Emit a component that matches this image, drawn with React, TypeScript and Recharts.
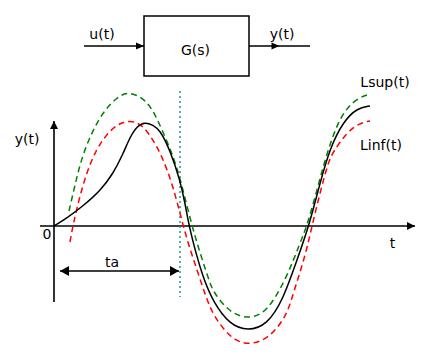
import React from 'react';
import { ComposedChart, Line, XAxis, YAxis, ReferenceLine, ReferenceArea, ReferenceDot } from 'recharts';

// time axis (abstract units) and response values
const response = [
  { t: 0, y: 0 }, { t: 13, y: 8 }, { t: 29, y: 20 }, { t: 46, y: 35 }, { t: 59, y: 52 },
  { t: 69, y: 72 }, { t: 76, y: 89 }, { t: 83, y: 100 }, { t: 91, y: 104 }, { t: 99, y: 101 },
  { t: 106, y: 96 }, { t: 116, y: 76 }, { t: 126, y: 46 }, { t: 131, y: 23 }, { t: 135, y: 0 },
  { t: 143, y: -31 }, { t: 149, y: -51 }, { t: 159, y: -76 }, { t: 176, y: -99 }, { t: 194, y: -105 },
  { t: 213, y: -99 }, { t: 229, y: -74 }, { t: 243, y: -34 }, { t: 255, y: 0 }, { t: 266, y: 43 },
  { t: 276, y: 78 }, { t: 289, y: 104 }, { t: 303, y: 118 }, { t: 316, y: 120 },
];

const lsup = [
  { t: 15, y: 15 }, { t: 21, y: 41 }, { t: 29, y: 74 }, { t: 46, y: 111 }, { t: 63, y: 129 },
  { t: 75, y: 135 }, { t: 93, y: 126 }, { t: 104, y: 106 }, { t: 121, y: 66 }, { t: 129, y: 36 },
  { t: 138, y: 0 }, { t: 146, y: -27 }, { t: 155, y: -54 }, { t: 159, y: -66 }, { t: 176, y: -87 },
  { t: 194, y: -93 }, { t: 213, y: -87 }, { t: 233, y: -51 }, { t: 246, y: -17 }, { t: 253, y: 0 },
  { t: 263, y: 36 }, { t: 272, y: 70 }, { t: 286, y: 111 }, { t: 303, y: 128 }, { t: 316, y: 132 },
];

const linf = [
  { t: 16, y: -16 }, { t: 19, y: 1 }, { t: 26, y: 31 }, { t: 36, y: 64 }, { t: 49, y: 88 },
  { t: 63, y: 102 }, { t: 76, y: 106 }, { t: 89, y: 101 }, { t: 99, y: 86 }, { t: 108, y: 70 },
  { t: 118, y: 43 }, { t: 126, y: 13 }, { t: 133, y: -14 }, { t: 143, y: -44 }, { t: 152, y: -71 },
  { t: 159, y: -89 }, { t: 176, y: -112 }, { t: 194, y: -120 }, { t: 216, y: -112 }, { t: 233, y: -89 },
  { t: 239, y: -68 }, { t: 251, y: -31 }, { t: 258, y: 0 }, { t: 266, y: 33 }, { t: 274, y: 63 },
  { t: 279, y: 74 }, { t: 293, y: 94 }, { t: 306, y: 103 }, { t: 316, y: 105 },
];

const labels = [
  { t: 48, y: 187, text: 'u(t)' },
  { t: 228, y: 187, text: 'y(t)' },
  { t: 141.5, y: 171, text: 'G(s)' },
  { t: 331, y: 139, text: 'Lsup(t)' },
  { t: 327, y: 76, text: 'Linf(t)' },
  { t: -27, y: 82, text: 'y(t)' },
  { t: -7, y: -13, text: '0' },
  { t: 338.5, y: -22, text: 't' },
  { t: 58, y: -41, text: 'ta' },
];

const FONT = 'DejaVu Sans, sans-serif';

function headPts(tx: number, ty: number, dx: number, dy: number, len: number, w: number) {
  const n = Math.hypot(dx, dy) || 1;
  const ux = dx / n, uy = dy / n;
  const bx = tx - ux * len, by = ty - uy * len;
  const px = -uy * w / 2, py = ux * w / 2;
  return `${tx},${ty} ${bx + px},${by + py} ${bx - px},${by - py}`;
}

const arrow = (mode: 'end' | 'both' | 'mid', len = 8, w = 8) => (p: any) => {
  const { x1, y1, x2, y2 } = p;
  const dx = x2 - x1, dy = y2 - y1;
  const heads: string[] = [];
  if (mode === 'end' || mode === 'both') heads.push(headPts(x2, y2, dx, dy, len, w));
  if (mode === 'both') heads.push(headPts(x1, y1, -dx, -dy, len, w));
  if (mode === 'mid') heads.push(headPts((x1 + x2) / 2, (y1 + y2) / 2, dx, dy, len, w));
  return (
    <g>
      <line x1={x1} y1={y1} x2={x2} y2={y2} stroke="#000" strokeWidth={1.6} />
      {heads.map((h, i) => <polygon key={i} points={h} fill="#000" />)}
    </g>
  );
};

const textShape = (s: string) => (p: any) => (
  <text x={p.cx} y={p.cy} textAnchor="middle" fontFamily={FONT} fontSize={14} fill="#000">{s}</text>
);

export default function App() {
  return (
    <div style={{ position: 'absolute', left: 0, top: 0, background: '#fff' }}>
      <ComposedChart width={431} height={363} margin={{ top: 0, right: 0, bottom: 0, left: 0 }}>
        <XAxis type="number" dataKey="t" domain={[-54, 377]} hide allowDataOverflow />
        <YAxis type="number" domain={[-137, 226]} hide allowDataOverflow />
        <ReferenceArea x1={90} x2={195} y1={150} y2={210} fill="#fff" fillOpacity={1} stroke="#000" strokeWidth={1.5} ifOverflow="visible" />
        <ReferenceLine segment={[{ x: 30, y: 180 }, { x: 90, y: 180 }]} shape={arrow('end', 8, 7)} ifOverflow="visible" />
        <ReferenceLine segment={[{ x: 195, y: 180 }, { x: 256, y: 180 }]} shape={arrow('mid', 8, 7)} ifOverflow="visible" />
        <ReferenceLine segment={[{ x: -14, y: 0 }, { x: 361, y: 0 }]} shape={arrow('end', 8, 8)} ifOverflow="visible" />
        <ReferenceLine segment={[{ x: 0, y: -76 }, { x: 0, y: 105 }]} shape={arrow('end', 8, 8)} ifOverflow="visible" />
        <ReferenceLine segment={[{ x: 6, y: -45 }, { x: 125, y: -45 }]} shape={arrow('both', 9, 10)} ifOverflow="visible" />
        <ReferenceLine segment={[{ x: 126, y: 135 }, { x: 126, y: -71 }]} stroke="#1a9696" strokeWidth={1.5} strokeDasharray="2 3" ifOverflow="visible" />
        <Line data={lsup} dataKey="y" type="basis" stroke="#008000" strokeWidth={1.5} strokeDasharray="6 4" dot={false} activeDot={false} isAnimationActive={false} />
        <Line data={linf} dataKey="y" type="basis" stroke="#ff0000" strokeWidth={1.5} strokeDasharray="6 4" dot={false} activeDot={false} isAnimationActive={false} />
        <Line data={response} dataKey="y" type="basis" stroke="#000" strokeWidth={1.5} dot={false} activeDot={false} isAnimationActive={false} />
        {labels.map((l) => (
          <ReferenceDot key={l.text + l.t} x={l.t} y={l.y} r={0} shape={textShape(l.text)} ifOverflow="visible" />
        ))}
      </ComposedChart>
    </div>
  );
}
